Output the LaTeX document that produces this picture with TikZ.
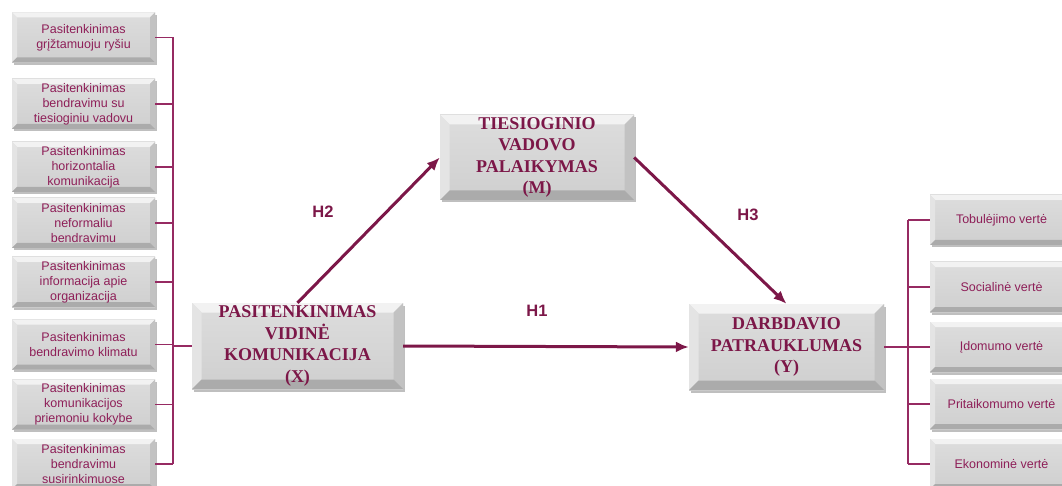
\documentclass[tikz,border=0pt]{standalone}
\usepackage{fontspec}
\setmainfont{Liberation Serif}
\setsansfont{Liberation Sans}
\usetikzlibrary{arrows.meta,shadows,calc}

\definecolor{wine}{HTML}{7C1748}
\definecolor{winetext}{HTML}{8E1F58}
\definecolor{winebus}{HTML}{962A62}
\definecolor{facetop}{HTML}{DDDDDD}
\definecolor{facebot}{HTML}{CFCFCF}
\definecolor{bevtop}{HTML}{F2F2F2}
\definecolor{bevleft}{HTML}{E4E4E4}
\definecolor{bevright}{HTML}{C2C2C2}
\definecolor{bevbot}{HTML}{ABABAB}

\tikzset{
  % raised, bevelled button-like box
  bevel/.style={draw=none, top color=facetop, bottom color=facebot,
    drop shadow={shadow xshift=1.5pt, shadow yshift=-2.5pt, opacity=0.25, fill=black},
    path picture={
      \fill[bevtop] (path picture bounding box.north west) -- (path picture bounding box.north east)
        -- ([shift={(-#1,-#1)}]path picture bounding box.north east)
        -- ([shift={(#1,-#1)}]path picture bounding box.north west) -- cycle;
      \fill[bevleft] (path picture bounding box.north west)
        -- ([shift={(#1,-#1)}]path picture bounding box.north west)
        -- ([shift={(#1,#1)}]path picture bounding box.south west)
        -- (path picture bounding box.south west) -- cycle;
      \fill[bevright] (path picture bounding box.north east)
        -- ([shift={(-#1,-#1)}]path picture bounding box.north east)
        -- ([shift={(-#1,#1)}]path picture bounding box.south east)
        -- (path picture bounding box.south east) -- cycle;
      \fill[bevbot] (path picture bounding box.south west) -- (path picture bounding box.south east)
        -- ([shift={(-#1,#1)}]path picture bounding box.south east)
        -- ([shift={(#1,#1)}]path picture bounding box.south west) -- cycle;
    }},
  smallbox/.style={bevel=5pt, minimum width=143pt, minimum height=50pt, inner sep=0pt,
    align=center, text=winetext, font=\sffamily\fontsize{12.5}{15}\selectfont},
  bigbox/.style={bevel=9.5pt, inner sep=0pt, align=center, text=wine,
    font=\rmfamily\bfseries\fontsize{18}{21.5}\selectfont},
  hlab/.style={text=wine, font=\sffamily\bfseries\fontsize{16.5}{18}\selectfont},
  bus/.style={draw=winebus, line width=1.5pt},
  hpath/.style={draw=wine, line width=3pt, -{Latex[length=13pt,width=11pt]}},
}

\begin{document}
\begin{tikzpicture}[x=1pt, y=-1pt]
\useasboundingbox (0,0) rectangle (1062,486);

% dimensions of internal communication satisfaction
\node[smallbox] (l1) at (83.5,37.5) {Pasitenkinimas\\grįžtamuoju ryšiu};
\node[smallbox] (l2) at (83.5,104) {Pasitenkinimas\\bendravimu su\\tiesioginiu vadovu};
\node[smallbox] (l3) at (83.5,167) {Pasitenkinimas\\horizontalia\\komunikacija};
\node[smallbox] (l4) at (83.5,223) {Pasitenkinimas\\neformaliu\\bendravimu};
\node[smallbox] (l5) at (83.5,282) {Pasitenkinimas\\informacija apie\\organizacija};
\node[smallbox] (l6) at (83.5,344.5) {Pasitenkinimas\\bendravimo klimatu};
\node[smallbox] (l7) at (83.5,404.5) {Pasitenkinimas\\komunikacijos\\priemoniu kokybe};
\node[smallbox] (l8) at (83.5,464) {Pasitenkinimas\\bendravimu\\susirinkimuose};

% main constructs
\node[bigbox, minimum width=211pt, minimum height=86pt] (x) at (297.5,346)
  {PASITENKINIMAS\\VIDINĖ\\KOMUNIKACIJA\\(X)};
\node[bigbox, minimum width=194pt, minimum height=85pt] (m) at (537,157.5)
  {TIESIOGINIO\\VADOVO\\PALAIKYMAS\\(M)};
\node[bigbox, minimum width=195pt, minimum height=86pt] (y) at (786.5,347)
  {DARBDAVIO\\PATRAUKLUMAS\\(Y)};

% dimensions of employer attractiveness
\node[smallbox] (r1) at (1001.5,220) {Tobulėjimo vertė};
\node[smallbox] (r2) at (1001.5,287) {Socialinė vertė};
\node[smallbox] (r3) at (1001.5,347) {Įdomumo vertė};
\node[smallbox] (r4) at (1001.5,404) {Pritaikomumo vertė};
\node[smallbox] (r5) at (1001.5,464) {Ekonominė vertė};

% left bus
\coordinate (lb) at (173,0);
\foreach \n in {l1,l2,l3,l4,l5,l6,l7,l8}
  \draw[bus] (\n.east) -- (\n.east -| lb);
\draw[bus] (l1.east -| lb) -- (l8.east -| lb);
\draw[bus] (x.west -| lb) -- (x.west);

% right bus
\coordinate (rb) at (908,0);
\foreach \n in {r1,r2,r3,r4,r5}
  \draw[bus] (\n.west) -- (\n.west -| rb);
\draw[bus] (r1.west -| rb) -- (r5.west -| rb);
\draw[bus] (y.east) -- (y.east -| rb);

% hypothesised paths
\draw[hpath] (x.north) -- (m.west);
\draw[hpath] (m.east) -- (y.north);
\draw[hpath] (x.east) -- (y.west);

\node[hlab] (h2) at (323,212) {H2};
\node[hlab] (h3) at (748,215) {H3};
\node[hlab] (h1) at (537,311) {H1};
\end{tikzpicture}
\end{document}
